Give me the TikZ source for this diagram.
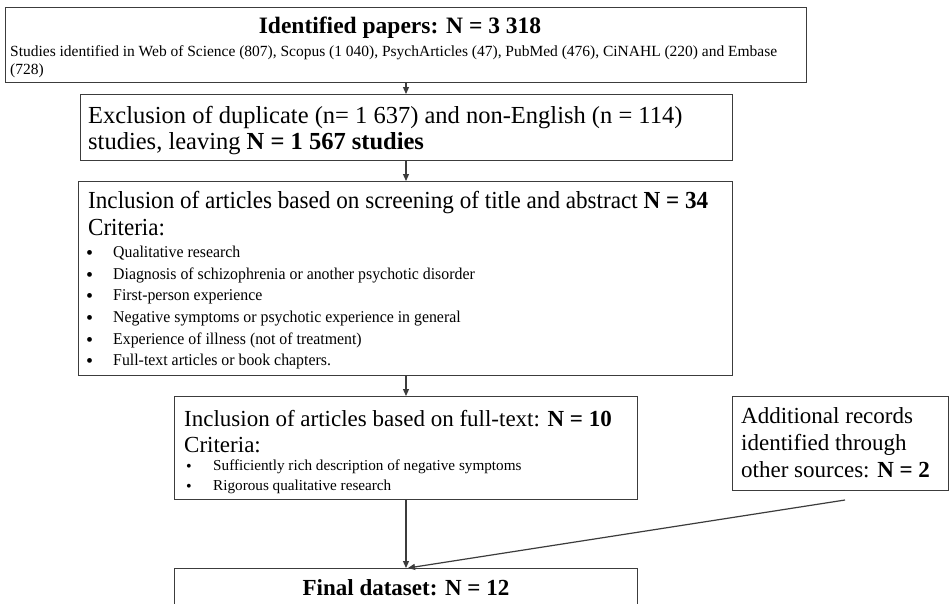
\documentclass[tikz,border=0pt]{standalone}
\usepackage{fontspec}
\setmainfont{Liberation Serif}
\usetikzlibrary{arrows.meta}
\definecolor{linec}{HTML}{3C3C3C}
\begin{document}
\begin{tikzpicture}[x=1pt,y=-1pt,
  box/.style={draw=linec, line width=1.3pt, inner sep=0pt, anchor=north west},
  conn/.style={draw=linec, line width=1.2pt, -{Triangle[length=7pt,width=6pt]}},
  txt/.style={inner sep=0pt, anchor=base west, text=black},
  big/.style={font=\fontsize{23}{27}\selectfont},
  small/.style={font=\fontsize{16.5}{19}\selectfont},
  bul/.style={font=\fontsize{20}{20}\selectfont},
]
\useasboundingbox (0,0) rectangle (950,603);
\clip (0,0) rectangle (950,603);
\fill[white] (0,0) rectangle (950,603);

% boxes
\node[box, minimum width=801pt, minimum height=75pt] (b1) at (5,7) {};
\node[box, minimum width=652pt, minimum height=66pt] (b2) at (80,94) {};
\node[box, minimum width=654pt, minimum height=194pt] (b3) at (78,181) {};
\node[box, minimum width=463pt, minimum height=103pt] (b4) at (174,396) {};
\node[box, minimum width=216pt, minimum height=94pt] (b5) at (732,396) {};
\node[box, minimum width=463pt, minimum height=60pt] (b6) at (174,568) {};

% box 1 text
\node[txt, anchor=base, font=\fontsize{23.5}{27}\selectfont\bfseries] (t1) at (400,33) {Identified papers: N = 3 318};
\node[txt, font=\fontsize{15.5}{18}\selectfont] (t1a) at (10,56) {\makebox[767pt][s]{Studies identified in Web of Science (807), Scopus (1 040), PsychArticles (47), PubMed (476), CiNAHL (220) and Embase}};
\node[txt, font=\fontsize{15.5}{18}\selectfont] (t1b) at (10,74) {(728)};

% box 2 text
\node[txt, font=\fontsize{24.5}{28}\selectfont] (t2a) at (88,123) {Exclusion of duplicate (n= 1 637) and non-English (n = 114)};
\node[txt, font=\fontsize{24.5}{28}\selectfont] (t2b) at (88,149) {studies, leaving \textbf{N = 1 567 studies}};

% box 3 text
\node[txt, font=\fontsize{24.5}{28}\selectfont] (t3a) at (88,208) {\resizebox{620pt}{\height}{Inclusion of articles based on screening of title and abstract \textbf{N = 34}}};
\node[txt, font=\fontsize{24.5}{28}\selectfont] (t3b) at (88,235) {\scalebox{0.94}[1]{Criteria:}};
\foreach \y/\s [count=\i] in {257/Qualitative research,279/Diagnosis of schizophrenia or another psychotic disorder,300/First-person experience,322/Negative symptoms or psychotic experience in general,344/Experience of illness (not of treatment),365/Full-text articles or book chapters.}{
  \node[txt, bul] (bu3\i) at (86,\y+2) {•};
  \node[txt, small] (it3\i) at (113,\y) {\scalebox{0.96}[1]{\s}};
}

% box 4 text
\node[txt, big] (t4a) at (184,426) {Inclusion of articles based on full-text: \textbf{N = 10}};
\node[txt, big] (t4b) at (184,452) {Criteria:};
\node[txt, font=\fontsize{16}{16}\selectfont] (bu41) at (186,471) {•};
\node[txt, font=\fontsize{15.2}{18}\selectfont] (it41) at (213,470) {Sufficiently rich description of negative symptoms};
\node[txt, font=\fontsize{16}{16}\selectfont] (bu42) at (186,491) {•};
\node[txt, font=\fontsize{15.2}{18}\selectfont] (it42) at (213,490) {Rigorous qualitative research};

% box 5 text
\node[txt, big] (t5a) at (741,423) {Additional records};
\node[txt, big] (t5b) at (741,450) {identified through};
\node[txt, big] (t5c) at (741,477) {other sources: \textbf{N = 2}};

% box 6 text
\node[txt, anchor=base, font=\fontsize{23}{27}\selectfont\bfseries] (t6) at (406,595) {Final dataset: N = 12};

% connectors
\coordinate (src5) at (845,500);
\draw[conn] (b1.south -| 406,0) -- (b2.north -| 406,0);
\draw[conn] (b2.south -| 406,0) -- (b3.north -| 406,0);
\draw[conn] (b3.south -| 406,0) -- (b4.north -| 406,0);
\draw[conn] (b4.south -| 406,0) -- (b6.north -| 406,0);
\draw[conn] (src5) -- (b6.north -| 408,0);
\end{tikzpicture}
\end{document}
